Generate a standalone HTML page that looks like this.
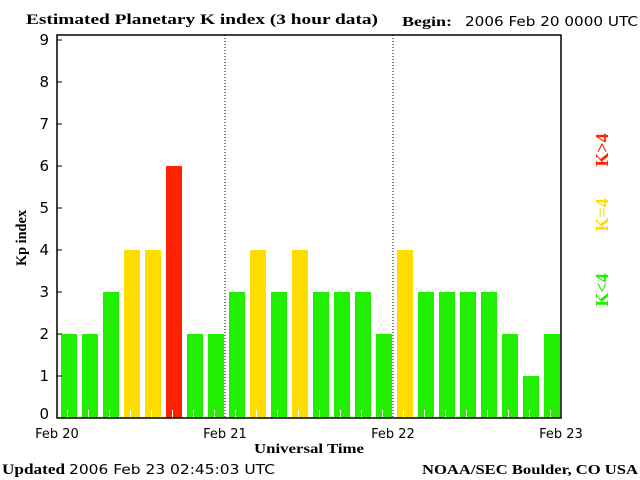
<!DOCTYPE html>
<html><head><meta charset="utf-8"><style>
body{margin:0;background:#fff;}
svg{display:block;}
.s{font-family:"Liberation Serif",serif;font-weight:bold;}
.n{font-family:"DejaVu Sans","Liberation Sans",sans-serif;}
</style></head><body>
<svg id="c" width="640" height="480" viewBox="0 0 640 480">
<text class="s" x="26" y="24" font-size="15" textLength="352" lengthAdjust="spacingAndGlyphs">Estimated Planetary K index (3 hour data)</text>
<text class="s" x="402" y="26" font-size="14" textLength="50" lengthAdjust="spacingAndGlyphs">Begin:</text>
<text class="n" x="465" y="26" font-size="13" textLength="173" lengthAdjust="spacingAndGlyphs">2006 Feb 20 0000 UTC</text>
<g id="plot"></g>
<rect x="57" y="35" width="504" height="383" fill="none" stroke="#000" stroke-width="1.5"/>
<text class="s" x="26" y="238" font-size="15" text-anchor="middle" transform="rotate(-90 26 238)" textLength="56" lengthAdjust="spacingAndGlyphs">Kp index</text>
<text class="s" x="254" y="453" font-size="14" textLength="110" lengthAdjust="spacingAndGlyphs">Universal Time</text>
<text class="s" x="608" y="150" font-size="18" fill="#ff2200" text-anchor="middle" transform="rotate(-90 608 150)">K&gt;4</text>
<text class="s" x="608" y="215" font-size="18" fill="#ffdd00" text-anchor="middle" transform="rotate(-90 608 215)">K=4</text>
<text class="s" x="608" y="290" font-size="18" fill="#22ee00" text-anchor="middle" transform="rotate(-90 608 290)">K&lt;4</text>
<text class="s" x="2" y="474" font-size="15" textLength="63" lengthAdjust="spacingAndGlyphs">Updated</text>
<text class="n" x="69" y="474" font-size="13" textLength="206" lengthAdjust="spacingAndGlyphs">2006 Feb 23 02:45:03 UTC</text>
<text class="s" x="422" y="474" font-size="14" textLength="216" lengthAdjust="spacingAndGlyphs">NOAA/SEC Boulder, CO USA</text>
</svg>
<script>
const kpValues=[2,2,3,4,4,6,2,2,3,4,3,4,3,3,3,2,4,3,3,3,3,2,1,2];
const dayLabels=["Feb 20","Feb 21","Feb 22","Feb 23"];
const yTicks=[0,1,2,3,4,5,6,7,8,9];
const NS="http://www.w3.org/2000/svg";
const g=document.getElementById("plot");
const x0=57,x1=561,yb=418,pu=42;
const slot=(x1-x0)/kpValues.length;
function xs(i){return x0+i*slot;}
function ys(v){return yb-v*pu;}
function mk(t,a){const e=document.createElementNS(NS,t);for(const k in a)e.setAttribute(k,a[k]);g.appendChild(e);return e;}
kpValues.forEach((v,i)=>{
  const col=v>4?"#ff2200":v==4?"#ffdd00":"#22ee00";
  const r=mk("rect",{x:xs(i)+4,y:ys(v),width:16,height:yb-ys(v),fill:col});
  
  
  const t=mk("line",{x1:xs(i)+slot/2,x2:xs(i)+slot/2,y1:yb,y2:yb-8,stroke:"#fff"});
  
  
});
yTicks.forEach(v=>{
  const l=mk("line",{x1:x0,x2:x0+5,y1:ys(v),y2:ys(v),stroke:"#000"});
  
  
  const t=mk("text",{x:49,y:Math.min(ys(v)+5,419),"font-size":15,"text-anchor":"end",class:"n"});
  t.textContent=v;
  
  
});
dayLabels.forEach((d,i)=>{
  const x=x0+i*(x1-x0)/(dayLabels.length-1);
  if(i>0&&i<dayLabels.length-1){
    const l=mk("line",{x1:x,x2:x,y1:35,y2:yb,stroke:"#000","stroke-dasharray":"1,2"});
    
    
  }
  const t=mk("text",{x:x,y:438,"font-size":13,"text-anchor":"middle",class:"n"});
  t.textContent=d;
  
  
});
</script>
</body></html>
